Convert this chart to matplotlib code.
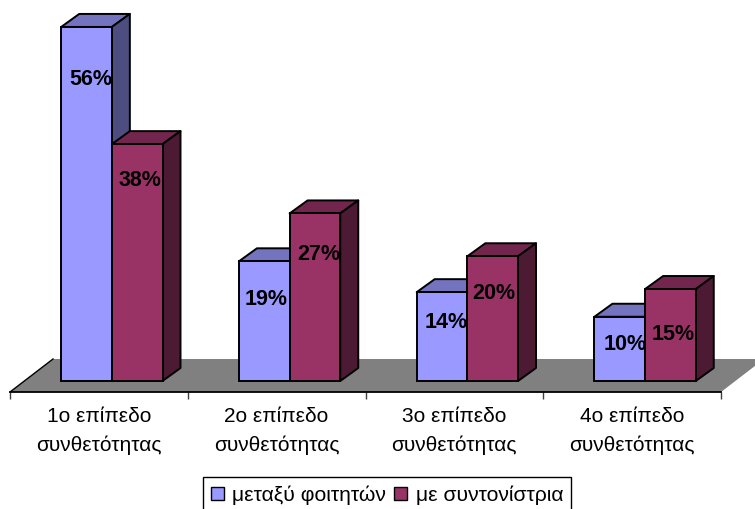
import matplotlib
matplotlib.use('Agg')
import matplotlib.pyplot as plt
from matplotlib.patches import Patch, Polygon

categories = ['1ο επίπεδο\nσυνθετότητας', '2ο επίπεδο\nσυνθετότητας',
              '3ο επίπεδο\nσυνθετότητας', '4ο επίπεδο\nσυνθετότητας']
series_names = ['μεταξύ φοιτητών', 'με συντονίστρια']
foitites = [56.2, 19.0, 14.1, 10.2]
syntonistria = [37.6, 26.6, 19.8, 14.6]

plt.rcParams['font.family'] = ['Liberation Sans', 'DejaVu Sans']

W, H = 755, 509
fig = plt.figure(figsize=(W / 100, H / 100), dpi=100)
ax = fig.add_axes([10 / W, (H - 392) / H, 711 / W, 392 / H])

# scales: one category is 177.75 px, one percent is about 6.3 px
ax.set_xlim(0, 4)
ax.set_ylim(-11 / 6.3, 381 / 6.3)
dx = 18 / 177.75
dy = 13 / 6.3
offset = 0.288
bw = 0.285

# floor of the 3d box
floor_dx = 43 / 177.75
floor_top = 22 / 6.3
floor_bottom = ax.get_ylim()[0]
ax.add_patch(Polygon([(0, floor_bottom), (floor_dx, floor_top), (4 + floor_dx, floor_top), (4, floor_bottom)],
                     closed=True, facecolor='#808080', edgecolor='none', clip_on=False, zorder=1))
ax.plot([0, floor_dx], [floor_bottom, floor_top], color='black', lw=1, clip_on=False, zorder=1.5)


def draw_bar(x, h, front, top, side, z):
    ax.bar(x, h, bw, align='edge', color=front, edgecolor='black', linewidth=1.4, zorder=z + 0.2, clip_on=False)
    ax.add_patch(Polygon([(x, h), (x + dx, h + dy), (x + bw + dx, h + dy), (x + bw, h)],
                         facecolor=top, edgecolor='black', linewidth=1.4, joinstyle='round', zorder=z, clip_on=False))
    ax.add_patch(Polygon([(x + bw, 0), (x + bw + dx, dy), (x + bw + dx, h + dy), (x + bw, h)],
                         facecolor=side, edgecolor='black', linewidth=1.4, joinstyle='round', zorder=z, clip_on=False))


# label nudges in pixels, the labels were placed by hand in the original
nudge_a = [(4, 53), (2, 38), (4, 30), (5, 28)]
nudge_b = [(3, 36), (4, 41), (1, 37), (3, 45)]

for i in range(4):
    xa = i + offset
    xb = xa + bw
    draw_bar(xa, foitites[i], '#9999FF', '#7373BF', '#4D4D80', 2 + i * 2)
    draw_bar(xb, syntonistria[i], '#993366', '#73264D', '#4D1A33', 3 + i * 2)
    for x, h, n in [(xa, foitites[i], nudge_a[i]), (xb, syntonistria[i], nudge_b[i])]:
        ax.annotate(f'{h:.0f}%', (x + bw / 2, h), xytext=(n[0] * 0.72, -n[1] * 0.72), textcoords='offset points',
                    ha='center', va='center', fontsize=15.5, fontweight='bold', color='black', zorder=30)

# axis line and ticks
for s in ['top', 'left', 'right']:
    ax.spines[s].set_visible(False)
ax.spines['bottom'].set_linewidth(1.3)
ax.spines['bottom'].set_zorder(1.6)
ax.patch.set_visible(False)
ax.set_yticks([])
ax.set_xticks(range(5))
ax.set_xticklabels([])
ax.set_xticks([i + 0.5 for i in range(4)], minor=True)
ax.set_xticklabels(categories, minor=True, fontsize=15, linespacing=1.6)
ax.tick_params(axis='x', which='major', length=5, width=1, color='#404040')
ax.tick_params(axis='x', which='minor', length=0, pad=11)

handles = [Patch(facecolor='#9999FF', edgecolor='black', linewidth=1),
           Patch(facecolor='#993366', edgecolor='black', linewidth=1)]
fig.legend(handles, series_names, ncol=2, loc='lower left', bbox_to_anchor=(203 / W, -4 / H),
           bbox_transform=fig.transFigure, fontsize=15.2, fancybox=False, framealpha=1, edgecolor='black',
           handlelength=0.6, handleheight=0.6, handletextpad=0.4, columnspacing=0.4,
           borderaxespad=0, borderpad=0.38)

fig.savefig('out.png', dpi=100)
